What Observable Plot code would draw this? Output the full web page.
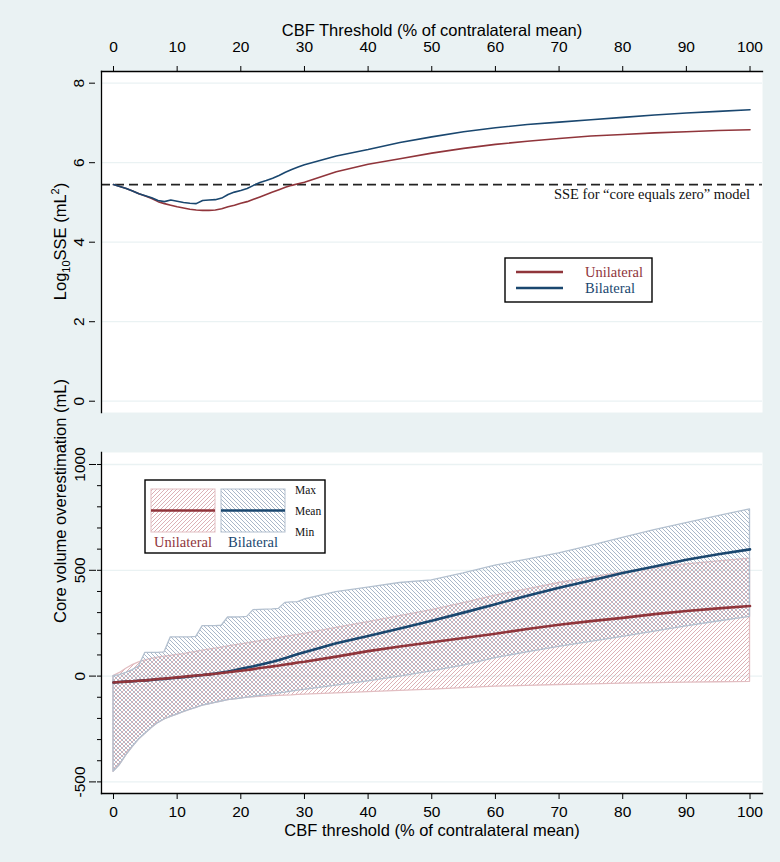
<!DOCTYPE html>
<html><head><meta charset="utf-8">
<script src="https://cdn.jsdelivr.net/npm/d3@7"></script>
<script src="https://cdn.jsdelivr.net/npm/@observablehq/plot@0.6"></script>
<style>
html,body{margin:0;padding:0;background:#EAF2F3;}
#chart{width:780px;height:862px;background:#EAF2F3;position:relative;overflow:hidden;}
#chart svg{display:block;}
</style></head><body><div id="chart"></div>
<script>
// ---------- DATA ----------
const thresholds = [0,1,2,3,4,5,6,7,8,9,10,11,12,13,14,15,16,17,18,19,20,21,22,23,24,25,26,27,28,29,30,35,40,45,50,55,60,65,70,75,80,85,90,95,100];

// Panel A: log10 SSE
const uniSSE = [5.45,5.40,5.35,5.29,5.22,5.16,5.10,5.02,4.97,4.93,4.89,4.86,4.83,4.81,4.80,4.80,4.81,4.84,4.89,4.93,4.98,5.02,5.08,5.14,5.20,5.26,5.32,5.38,5.43,5.47,5.51,5.77,5.96,6.10,6.24,6.36,6.46,6.54,6.61,6.67,6.71,6.75,6.78,6.81,6.83];
const bilSSE = [5.45,5.40,5.35,5.29,5.22,5.17,5.12,5.05,5.02,5.06,5.03,5.00,4.98,4.97,5.05,5.06,5.07,5.11,5.20,5.26,5.30,5.35,5.43,5.50,5.55,5.61,5.68,5.76,5.83,5.89,5.95,6.17,6.33,6.51,6.65,6.78,6.88,6.96,7.02,7.08,7.14,7.20,7.25,7.29,7.33];
const sseZero = 5.45;
const sseLabel = "SSE for \u201Ccore equals zero\u201D model";

// Panel B: core volume overestimation (mL)
const uniMean = [-30,-28,-26,-24,-22,-20,-17,-14,-12,-9,-6,-3,0,3,5,8,11,15,18,22,25,29,33,38,42,46,50,55,59,64,68,92,118,140,160,180,200,223,243,260,275,293,308,320,331];
const uniMin  = [-452,-420,-375,-335,-300,-272,-245,-222,-205,-193,-182,-170,-160,-150,-140,-133,-126,-120,-114,-110,-106,-102,-100,-98,-97,-95,-93,-92,-91,-89,-88,-82,-76,-70,-64,-57,-50,-46,-42,-39,-36,-33,-31,-29,-27];
const uniMax  = [0,15,35,52,65,74,81,87,92,96,100,104,110,115,120,125,130,135,140,145,150,155,160,165,170,175,180,185,190,195,200,228,255,283,312,345,380,410,440,465,490,510,528,542,555];
const bilMean = [-30,-28,-26,-24,-22,-20,-18,-15,-13,-10,-8,-5,-2,2,5,8,12,17,22,28,35,41,47,54,61,68,76,85,95,104,113,155,190,225,262,300,340,380,418,452,487,518,550,576,599];
const bilMin  = [-452,-420,-375,-335,-300,-272,-245,-222,-205,-193,-182,-170,-160,-150,-140,-133,-126,-120,-114,-110,-106,-102,-98,-94,-90,-86,-82,-78,-73,-69,-65,-45,-25,-2,22,50,85,112,138,162,185,210,235,258,280];
const bilMax  = [0,5,15,28,45,110,110,110,112,183,183,183,183,185,236,236,236,238,277,277,278,280,312,313,314,315,318,346,348,350,362,397,418,440,452,485,522,550,580,615,653,690,723,756,788];

const xTicks = [0,10,20,30,40,50,60,70,80,90,100];
const sseTicks = [0,2,4,6,8];
const volTicks = [-500,0,500,1000];
const volMinorTicks = [-500,-400,-300,-200,-100,0,100,200,300,400,500,600,700,800,900,1000];
const groups = ["Unilateral","Bilateral"];
const xTitleTop = "CBF Threshold (% of contralateral mean)";
const xTitleBottom = "CBF threshold (% of contralateral mean)";
const yTitleBottom = "Core volume overestimation (mL)";
const legendRows = ["Max","Mean","Min"];

// ---------- STYLE ----------
const FONT = "'Liberation Sans', Arial, Helvetica, sans-serif";
const SERIF = "'Liberation Serif', 'Times New Roman', Times, serif";
const RED = "#90353B", BLUE = "#1A476F";
const RED_HATCH = "#DCB1B6", BLUE_HATCH = "#A9B7C9";
const RED_EDGE = "#E2BEC2", BLUE_EDGE = "#B3C0CF";
const BG = "#EAF2F3";
const xDomain = [-1.885, 101.96];
const fmt = d => String(d);

const sseRows = thresholds.map((t,i)=>({t, uni: uniSSE[i], bil: bilSSE[i]}));
const volRows = thresholds.map((t,i)=>({t, uMean: uniMean[i], uMin: uniMin[i], uMax: uniMax[i], bMean: bilMean[i], bMin: bilMin[i], bMax: bilMax[i]}));

const chartDiv = document.getElementById("chart");

// ---------- TOP PANEL ----------
const topSvg = Plot.plot({
  width: 780, height: 430,
  marginTop: 71, marginBottom: 18, marginLeft: 101, marginRight: 18,
  style: {fontFamily: FONT, fontSize: "15.5px", background: "transparent", color: "#000", overflow: "visible"},
  x: {domain: xDomain},
  y: {domain: [-0.284, 8.294]},
  marks: [
    Plot.frame({fill: "white", stroke: "none"}),
    Plot.gridY(sseTicks, {stroke: BG, strokeOpacity: 1, strokeWidth: 1.3}),
    Plot.ruleY([sseZero], {stroke: "#222", strokeWidth: 1.8, strokeDasharray: "9,5"}),
    Plot.line(sseRows, {x: "t", y: "uni", stroke: RED, strokeWidth: 1.6}),
    Plot.line(sseRows, {x: "t", y: "bil", stroke: BLUE, strokeWidth: 1.6}),
    Plot.text([sseLabel], {x: 100, y: sseZero, text: d=>d, textAnchor: "end", dy: 10, fontFamily: SERIF, fontSize: 14.5, fill: "#111"}),
    Plot.axisX({anchor: "top", ticks: xTicks, tickSize: 6, tickPadding: 14, label: null, fontSize: 15.5, tickFormat: fmt}),
    Plot.axisY({ticks: sseTicks, tickRotate: -90, tickSize: 6, tickPadding: 6, dx: -6, label: null, fontSize: 15.5, tickFormat: fmt}),
    Plot.frame({anchor: "top", stroke: "#000", strokeWidth: 1.3}),
    Plot.frame({anchor: "left", stroke: "#000", strokeWidth: 1.3}),
    Plot.text([xTitleTop], {frameAnchor: "top", lineAnchor: "middle", text: d=>d, dy: -41, fontSize: 16.5})
  ]
});
chartDiv.appendChild(topSvg);

{
  const s = d3.select(topSvg);
  const t = s.append("text")
    .attr("transform", "translate(66,241.5) rotate(-90)")
    .attr("text-anchor", "middle")
    .attr("font-family", FONT).attr("font-size", "16.5px").attr("fill", "#000");
  t.append("tspan").text("Log");
  t.append("tspan").attr("font-size", "11px").attr("dy", "4").text("10");
  t.append("tspan").attr("dy", "-4").text("SSE (mL");
  t.append("tspan").attr("font-size", "11px").attr("dy", "-7").text("2");
  t.append("tspan").attr("dy", "7").text(")");

  const g = s.append("g").attr("text-anchor", "start");
  g.append("rect").attr("x", 505).attr("y", 258).attr("width", 147).attr("height", 44)
    .attr("fill", "white").attr("stroke", "#000").attr("stroke-width", 1.4);
  const cols = [RED, BLUE];
  groups.forEach((name, i) => {
    const y = 272 + i * 16;
    g.append("line").attr("x1", 516).attr("x2", 563).attr("y1", y).attr("y2", y)
      .attr("stroke", cols[i]).attr("stroke-width", 2.4);
    g.append("text").attr("x", 585).attr("y", y).attr("dy", "0.35em")
      .attr("text-anchor", "start")
      .attr("font-family", SERIF).attr("font-size", "14.5px").attr("fill", cols[i]).text(name);
  });
}

// ---------- BOTTOM PANEL ----------
const bottomSvg = Plot.plot({
  width: 780, height: 432,
  marginTop: 22, marginBottom: 69, marginLeft: 101, marginRight: 18,
  style: {fontFamily: FONT, fontSize: "15.5px", background: "transparent", color: "#000", overflow: "visible"},
  x: {domain: xDomain},
  y: {domain: [-554.8, 1056.7]},
  marks: [
    Plot.frame({fill: "white", stroke: "none"}),
    Plot.gridY(volTicks, {stroke: BG, strokeOpacity: 1, strokeWidth: 1.3}),
    Plot.areaY(volRows, {x: "t", y1: "uMin", y2: "uMax", fill: "url(#hatchRed)", stroke: RED_EDGE, strokeWidth: 1.3}),
    Plot.areaY(volRows, {x: "t", y1: "bMin", y2: "bMax", fill: "url(#hatchBlue)", stroke: BLUE_EDGE, strokeWidth: 1.3}),
    Plot.line(volRows, {x: "t", y: "bMean", stroke: BLUE, strokeWidth: 2.6}),
    Plot.line(volRows, {x: "t", y: "uMean", stroke: RED, strokeWidth: 2.6}),
    Plot.axisX({anchor: "bottom", ticks: xTicks, tickSize: 6, tickPadding: 6, label: null, fontSize: 15.5, tickFormat: fmt}),
    Plot.axisY({ticks: volMinorTicks, tickSize: 4, tickFormat: () => "", label: null}),
    Plot.axisY({ticks: volTicks, tickRotate: -90, tickSize: 7, tickPadding: 5, dx: -5, label: null, fontSize: 15.5, tickFormat: fmt}),
    Plot.frame({anchor: "bottom", stroke: "#000", strokeWidth: 1.3}),
    Plot.frame({anchor: "left", stroke: "#000", strokeWidth: 1.3}),
    Plot.text([xTitleBottom], {frameAnchor: "bottom", lineAnchor: "middle", text: d=>d, dy: 37, fontSize: 16.5}),
    Plot.text([yTitleBottom], {frameAnchor: "left", text: d=>d, dx: -41, rotate: -90, fontSize: 16.5})
  ]
});
chartDiv.appendChild(bottomSvg);

{
  const s = d3.select(bottomSvg);
  const defs = s.insert("defs", ":first-child");
  const pr = defs.append("pattern").attr("id", "hatchRed").attr("patternUnits", "userSpaceOnUse")
    .attr("width", 4).attr("height", 4);
  pr.append("path").attr("d", "M-1,1 l2,-2 M0,4 l4,-4 M3,5 l2,-2")
    .attr("stroke", RED_HATCH).attr("stroke-width", 1);
  const pb = defs.append("pattern").attr("id", "hatchBlue").attr("patternUnits", "userSpaceOnUse")
    .attr("width", 4).attr("height", 4);
  pb.append("path").attr("d", "M-1,3 l2,2 M0,0 l4,4 M3,-1 l2,2")
    .attr("stroke", BLUE_HATCH).attr("stroke-width", 1);

  const oy = -430;
  const g = s.append("g").attr("text-anchor", "start");
  g.append("rect").attr("x", 145).attr("y", 480 + oy).attr("width", 180).attr("height", 73)
    .attr("fill", "white").attr("stroke", "#000").attr("stroke-width", 1.4);
  const fills = ["url(#hatchRed)", "url(#hatchBlue)"];
  const edges = [RED_EDGE, BLUE_EDGE];
  const cols = [RED, BLUE];
  groups.forEach((name, i) => {
    const x0 = 151 + i * 70;
    g.append("rect").attr("x", x0).attr("y", 489 + oy).attr("width", 64).attr("height", 43)
      .attr("fill", fills[i]).attr("stroke", edges[i]).attr("stroke-width", 1);
    g.append("line").attr("x1", x0).attr("x2", x0 + 64).attr("y1", 510.5 + oy).attr("y2", 510.5 + oy)
      .attr("stroke", cols[i]).attr("stroke-width", 2.4);
    g.append("text").attr("x", x0 + 32).attr("y", 542 + oy).attr("dy", "0.35em")
      .attr("text-anchor", "middle").attr("font-family", SERIF).attr("font-size", "14.5px")
      .attr("fill", cols[i]).text(name);
  });
  legendRows.forEach((r, i) => {
    g.append("text").attr("x", 295).attr("y", 490 + i * 21 + oy).attr("dy", "0.35em")
      .attr("text-anchor", "start")
      .attr("font-family", SERIF).attr("font-size", "11.5px").attr("fill", "#111").text(r);
  });
}
</script></body></html>
